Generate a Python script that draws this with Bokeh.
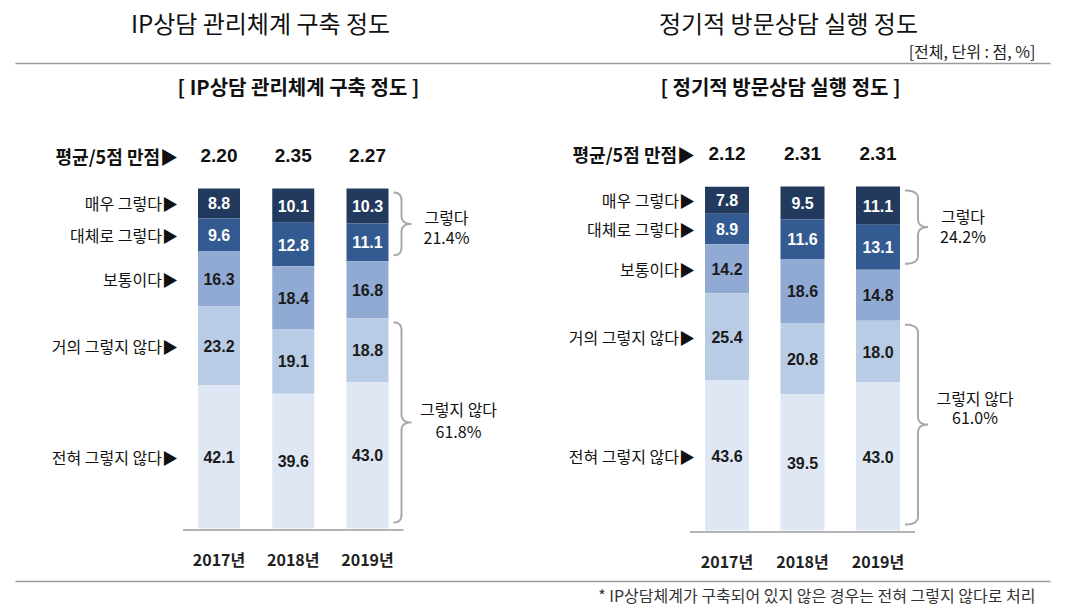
import numpy as np
from bokeh.plotting import figure
from bokeh.models import Range1d, Label
from bokeh.embed import file_html
from bokeh.resources import INLINE
from bokeh.core.properties import value

# ---------------- data ----------------
years = ["2017년", "2018년", "2019년"]
categories = ["매우 그렇다", "대체로 그렇다", "보통이다", "거의 그렇지 않다", "전혀 그렇지 않다"]
avg_label = "평균/5점 만점"
yes_label = "그렇다"
no_label = "그렇지 않다"

main_title_left = "IP상담 관리체계 구축 정도"
main_title_right = "정기적 방문상담 실행 정도"
sub_title_left = "[ IP상담 관리체계 구축 정도 ]"
sub_title_right = "[ 정기적 방문상담 실행 정도 ]"
unit_text = "[전체, 단위 : 점, %]"
footnote = "* IP상담체계가 구축되어 있지 않은 경우는 전혀 그렇지 않다로 처리"

left_avg = [2.20, 2.35, 2.27]
left_very_yes = [8.8, 10.1, 10.3]
left_yes = [9.6, 12.8, 11.1]
left_neutral = [16.3, 18.4, 16.8]
left_no = [23.2, 19.1, 18.8]
left_very_no = [42.1, 39.6, 43.0]

right_avg = [2.12, 2.31, 2.31]
right_very_yes = [7.8, 9.5, 11.1]
right_yes = [8.9, 11.6, 13.1]
right_neutral = [14.2, 18.6, 14.8]
right_no = [25.4, 20.8, 18.0]
right_very_no = [43.6, 39.5, 43.0]

colors = ["#223a5e", "#335b92", "#91aad4", "#b9cce6", "#dfe7f4"]
text_colors = ["white", "white", "#1a1a1a", "#1a1a1a", "#1a1a1a"]

KR = "Noto Sans CJK KR"
NUM = "Liberation Sans"

# ---------------- layout (pixels) ----------------
ORIGIN = 0
W, H = 1060, 605
LC = dict(c0=218.5, dx=74.25, base=528.0, sy=3.4, bw=42.0, gap=20.0, d1=8.0, d2=10.0,
          up_off=(-7, 13), lo_off=(-13, 9), up_dx=35, lo_dx=47)
RC = dict(c0=726.5, dx=75.5, base=530.0, sy=3.44, bw=44.0, gap=10.0, d1=13.0, d2=10.0,
          up_off=(-11, 9), lo_off=(-27, -8), up_dx=35, lo_dx=47)


def xr(c):
    return Range1d(-c["c0"] / c["dx"], (W - c["c0"]) / c["dx"])


def yr(c):
    return Range1d((c["base"] - H) / c["sy"], c["base"] / c["sy"])


p = figure(width=W, height=H, x_range=xr(LC), y_range=yr(LC),
           extra_x_ranges={"r": xr(RC)}, extra_y_ranges={"r": yr(RC)},
           output_backend="svg", toolbar_location=None,
           x_axis_type=None, y_axis_type=None, min_border=0,
           outline_line_color=None, background_fill_color="white",
           border_fill_color="white")


def qb(p0, p1, p2, n=14):
    t = np.linspace(0, 1, n)
    x = (1 - t) ** 2 * p0[0] + 2 * (1 - t) * t * p1[0] + t ** 2 * p2[0]
    y = (1 - t) ** 2 * p0[1] + 2 * (1 - t) * t * p1[1] + t ** 2 * p2[1]
    return x, y


def brace_path(c, x_start, v_top, v_bot, inset_t=4.0, inset_b=6.0, r=8.0):
    Lh = (v_top - v_bot) * c["sy"] - inset_t - inset_b
    d1, d2 = c["d1"], c["d2"]
    m = Lh / 2
    parts = [
        qb((0, 0), (d1, 0), (d1, r)),
        (np.array([d1, d1]), np.array([r, m - r])),
        qb((d1, m - r), (d1, m), (d1 + d2, m)),
        qb((d1 + d2, m), (d1, m), (d1, m + r)),
        (np.array([d1, d1]), np.array([m + r, Lh - r])),
        qb((d1, Lh - r), (d1, Lh), (0, Lh)),
    ]
    u = np.concatenate([q[0] for q in parts])
    w = np.concatenate([q[1] for q in parts])
    xs = x_start + u / c["dx"]
    vs = v_top - (inset_t + w) / c["sy"]
    tip_x = x_start + (d1 + d2) / c["dx"]
    mid_v = v_top - (inset_t + m) / c["sy"]
    return xs, vs, tip_x, mid_v


def draw_chart(c, series, avgs, rname=None):
    kw = {} if rname is None else dict(x_range_name=rname, y_range_name=rname)
    xs = np.arange(len(years))
    bw = c["bw"] / c["dx"]
    tops, bottoms = {}, {}
    cum = np.zeros(len(years))
    for k in reversed(range(len(categories))):
        vals = np.array(series[k])
        bottoms[k] = cum.copy()
        tops[k] = cum + vals
        cum = cum + vals
    totals = cum
    lab_x = xs[0] - bw / 2 - c["gap"] / c["dx"]
    for k in range(len(categories)):
        p.vbar(x=xs, bottom=bottoms[k], top=tops[k], width=bw,
               fill_color=colors[k], line_color=None, **kw)
        mids = (bottoms[k] + tops[k]) / 2
        p.text(x=xs, y=mids, text=[f"{v:.1f}" for v in series[k]],
               text_align="center", text_baseline="middle",
               text_font=value(NUM), text_font_style="bold",
               text_font_size="16px", text_color=text_colors[k], **kw)
        p.text(x=[lab_x], y=[mids[0]], text=[categories[k] + "▶"], text_align="right",
               text_baseline="middle", text_font=value(KR),
               text_font_size="16px", text_color="#111111", **kw)
    # axis line
    p.segment(x0=[xs[0] - bw / 2 - 15 / c["dx"]], x1=[xs[-1] + bw / 2 + 15 / c["dx"]],
              y0=[-1.5 / c["sy"]], y1=[-1.5 / c["sy"]],
              line_color="#b4b4b4", line_width=2, **kw)
    # averages
    v_avg = 100 + 33 / c["sy"]
    p.text(x=xs, y=[v_avg] * len(xs), text=[f"{a:.2f}" for a in avgs],
           text_align="center", text_baseline="middle", text_font=value(NUM),
           text_font_style="bold", text_font_size="19px", text_color="#111111", **kw)
    p.text(x=[lab_x], y=[v_avg], text=[avg_label + "▶"],
           text_align="right", text_baseline="middle", text_font=value(KR),
           text_font_style="bold", text_font_size="18px", text_color="#111111", **kw)
    # years
    p.text(x=xs, y=[-30 / c["sy"]] * len(xs), text=years, text_align="center",
           text_baseline="middle", text_font=value(KR), text_font_style="bold",
           text_font_size="16px", text_color="#222222", **kw)
    # braces on the last bar
    last = len(years) - 1
    x_start = xs[last] + bw / 2 + 5 / c["dx"]
    yes_total = series[0][last] + series[1][last]
    no_total = series[3][last] + series[4][last]
    groups = [
        (totals[last], totals[last] - yes_total, yes_label, yes_total, c["up_off"], c["up_dx"]),
        (no_total, 0.0, no_label, no_total, c["lo_off"], c["lo_dx"]),
    ]
    for v_top, v_bot, lab, tot, off, tdx in groups:
        bx, bv, tip_x, mid_v = brace_path(c, x_start, v_top, v_bot)
        p.line(bx, bv, line_color="#a8a8a8", line_width=2, **kw)
        tx = tip_x + tdx / c["dx"]
        p.text(x=[tx, tx], y=[mid_v - off[0] / c["sy"], mid_v - off[1] / c["sy"]],
               text=[lab, f"{tot:.1f}%"], text_align="center", text_baseline="middle",
               text_font=value(KR), text_font_size="16px", text_color="#111111", **kw)


draw_chart(LC, [left_very_yes, left_yes, left_neutral, left_no, left_very_no], left_avg)
draw_chart(RC, [right_very_yes, right_yes, right_neutral, right_no, right_very_no], right_avg, "r")


# ---------------- header / footer (page pixel positions -> left data units) ----------------
def px2d(X, Y):
    return (X - ORIGIN - LC["c0"]) / LC["dx"], (LC["base"] - (Y - ORIGIN)) / LC["sy"]


def add_label(X, Y, text, size, align="center", bold=False, color="#111111"):
    x, y = px2d(X, Y)
    p.add_layout(Label(x=x, y=y, text=text, text_align=align, text_baseline="middle",
                       text_font=KR, text_font_size=size,
                       text_font_style="bold" if bold else "normal", text_color=color))


add_label(260, 22, main_title_left, "24px")
add_label(788, 22, main_title_right, "24px")
add_label(1035, 50, unit_text, "16px", align="right", color="#222222")
add_label(298, 86, sub_title_left, "20px", bold=True)
add_label(780, 86, sub_title_right, "20px", bold=True)
add_label(1035, 594, footnote, "16px", align="right", color="#333333")

for ry in (63, 581):
    x0, yv = px2d(15, ry)
    x1, _ = px2d(1050, ry)
    p.segment(x0=[x0], x1=[x1], y0=[yv], y1=[yv], line_color="#9a9a9a", line_width=1.5)

open("out.html", "w").write(file_html(p, INLINE))
